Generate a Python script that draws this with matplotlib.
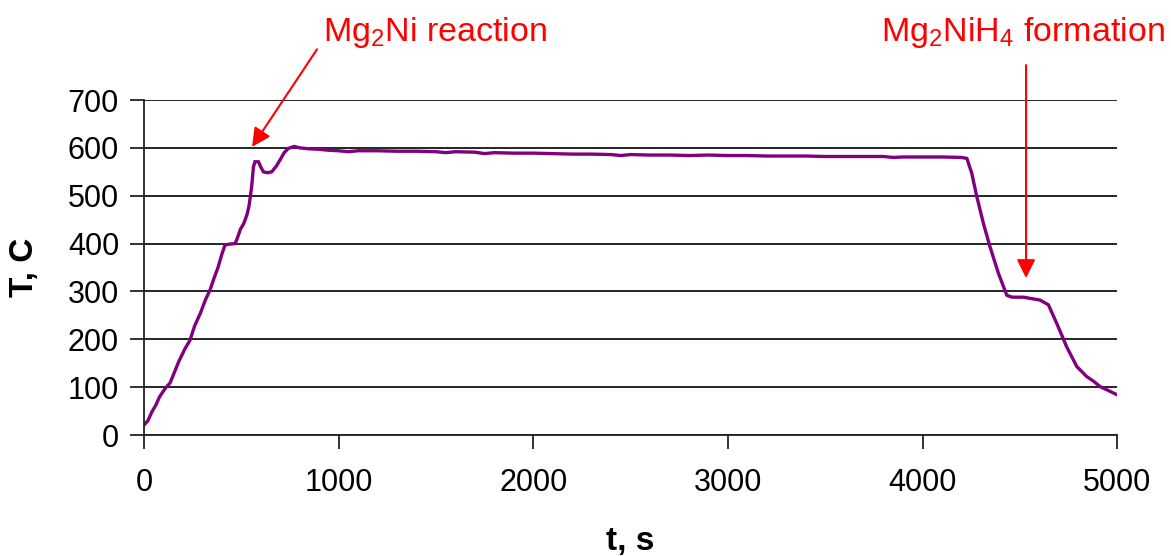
import numpy as np
import matplotlib
matplotlib.use("Agg")
import matplotlib.pyplot as plt

plt.rcParams['font.family'] = ['Liberation Sans', 'DejaVu Sans']
plt.rcParams['mathtext.fontset'] = 'custom'
plt.rcParams['mathtext.rm'] = 'Liberation Sans'
plt.rcParams['mathtext.it'] = 'Liberation Sans:italic'
plt.rcParams['mathtext.bf'] = 'Liberation Sans:bold'

# heating / holding / cooling record
t_s = [0, 20, 40, 60, 80, 110, 134, 160, 180, 210, 236, 260, 290, 315, 339,
       360, 380, 400, 416, 440, 468, 480, 495, 510, 519, 530, 540, 553,
       562, 570, 588, 600, 613, 635, 656, 680, 699, 720, 742, 771,
       800, 850, 900, 950, 1000, 1050, 1100, 1200, 1300, 1400, 1500,
       1550, 1600, 1700, 1750, 1800, 1900, 2000, 2100, 2200, 2300, 2400,
       2450, 2500, 2600, 2700, 2800, 2900, 3000, 3100, 3200, 3300, 3400,
       3500, 3600, 3700, 3800, 3850, 3900, 4000, 4100, 4200, 4228, 4253,
       4279, 4313, 4347, 4390, 4433, 4460, 4518, 4560, 4604, 4647, 4690,
       4741, 4793, 4844, 4880, 4913, 4960, 5000]
temp_c = [21, 30, 48, 62, 80, 98, 109, 135, 155, 180, 198, 228, 255, 282, 303,
          328, 350, 378, 397, 399, 400, 412, 430, 440, 449, 462, 480, 519,
          560, 571, 571, 560, 550, 548, 550, 562, 575, 590, 599, 603,
          600, 598, 597, 595, 594, 592, 594, 594, 593, 593, 592,
          590, 592, 591, 588, 590, 589, 589, 588, 587, 587, 586,
          584, 586, 585, 585, 584, 585, 584, 584, 583, 583, 583,
          582, 582, 582, 582, 580, 581, 581, 581, 580, 578, 547,
          498, 442, 393, 338, 292, 288, 288, 285, 282, 272, 233,
          184, 143, 122, 112, 101, 92, 84]

x_ticks = [0, 1000, 2000, 3000, 4000, 5000]
y_ticks = [0, 100, 200, 300, 400, 500, 600, 700]

fig = plt.figure(figsize=(11.71, 5.56), dpi=100)
ax = fig.add_axes([0.123, 0.2176, 0.831, 0.6025])

ax.plot(t_s, temp_c, color='#800080', lw=2.4, solid_joinstyle='miter')

ax.set_xlim(0, 5000)
ax.set_ylim(0, 700)
ax.set_xticks(x_ticks)
ax.set_yticks(y_ticks)
ax.yaxis.grid(True, color='black', lw=1.2)
ax.set_axisbelow(True)
for side in ('top', 'right'):
    ax.spines[side].set_visible(False)
for side in ('left', 'bottom'):
    ax.spines[side].set_color('#222222')
    ax.spines[side].set_linewidth(1.3)
ax.tick_params(axis='both', direction='out', length=10, width=1.3,
               color='#222222', labelsize=22, pad=8)
ax.tick_params(axis='x', pad=14)

ax.set_xlabel('t, s', fontsize=24, fontweight='bold', labelpad=20)
ax.set_ylabel('T, C', fontsize=24, fontweight='bold', labelpad=20)

# reaction markers
ax.text(1495, 842, r'Mg$_\mathregular{2}$Ni reaction', color='red',
        fontsize=24.5, ha='center', va='center', clip_on=False)
ax.annotate('', xy=(555, 602), xytext=(889, 806),
            arrowprops=dict(arrowstyle='-|>', color='red', lw=1.5,
                            mutation_scale=28, shrinkA=0, shrinkB=0),
            annotation_clip=False)

ax.text(4517, 842, r'Mg$_\mathregular{2}$NiH$_\mathregular{4}$ formation',
        color='red', fontsize=24.5, ha='center', va='center', clip_on=False)
ax.annotate('', xy=(4532, 328), xytext=(4532, 773),
            arrowprops=dict(arrowstyle='-|>', color='red', lw=1.5,
                            mutation_scale=28, shrinkA=0, shrinkB=0),
            annotation_clip=False)

fig.savefig('out.png', dpi=100)
